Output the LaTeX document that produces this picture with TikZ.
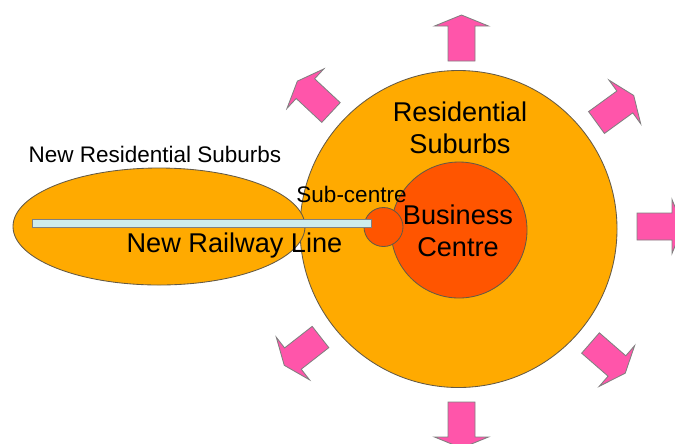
\documentclass[tikz,border=0pt]{standalone}
\usepackage{fontspec}
\setmainfont{Liberation Sans}
\definecolor{suburborange}{RGB}{255, 170, 0}
\definecolor{centrered}{RGB}{255, 85, 0}
\definecolor{spreadpink}{RGB}{255, 85, 170}
\definecolor{railcyan}{RGB}{206, 236, 236}
\definecolor{edgegray}{RGB}{100, 90, 70}
\usetikzlibrary{positioning}

\tikzset{
  zone/.style={draw=edgegray, line width=0.6pt},
  rail/.style={draw=gray, fill=railcyan, line width=0.6pt},
  smalllabel/.style={inner sep=0pt, anchor=base, font=\fontsize{16}{19}\selectfont},
  biglabel/.style={inner sep=0pt, anchor=base, align=center, font=\fontsize{19.3}{22.3}\selectfont},
  spreadarrow/.pic={
    \draw[draw=gray, fill=spreadpink, line width=0.6pt, line join=miter]
      (0,-13.5) -- (35,-13.5) -- (35,-27) -- (46,0) -- (35,27) -- (35,13.5) -- (0,13.5) -- cycle;
  }
}

\begin{document}
\begin{tikzpicture}[x=0.025cm, y=-0.025cm]
  \useasboundingbox (0,0) rectangle (675,443);
  \clip (0,0) rectangle (675,443);

  % Residential suburbs and the new ones along the line
  \draw[zone, fill=suburborange] (458.5,229) circle[radius=158.5];
  \draw[zone, fill=suburborange] (159,226.5) ellipse[x radius=146, y radius=58.5];

  % Centres
  \draw[zone, fill=centrered] (459,230) circle[radius=68];
  \draw[zone, fill=centrered] (383.5,227) circle[radius=19.5];

  % Railway
  \draw[rail] (32,219.5) rectangle (371,227);

  % Outward growth
  \pic[shift={(461.5,61)}, rotate=90] {spreadarrow};
  \pic[shift={(331,112.5)}, rotate=137] {spreadarrow};
  \pic[shift={(596.5,122.5)}, rotate=36] {spreadarrow};
  \pic[shift={(637,226.5)}, rotate=0] {spreadarrow};
  \pic[shift={(590.5,343)}, rotate=-41] {spreadarrow};
  \pic[shift={(461.5,402)}, rotate=-90] {spreadarrow};
  \pic[shift={(320.5,337)}, rotate=-142] {spreadarrow};

  % Labels
  \node[smalllabel] (newsub) at (155,162) {New Residential Suburbs};
  \node[smalllabel] (subcentre) at (351.5,202) {Sub-centre};
  \node[biglabel] (raillabel) at (234.5,252) {New Railway Line};
  \node[biglabel] (resident) at (460,153) {Residential\\Suburbs};
  \node[biglabel] (business) at (458,256) {Business\\Centre};
\end{tikzpicture}
\end{document}
